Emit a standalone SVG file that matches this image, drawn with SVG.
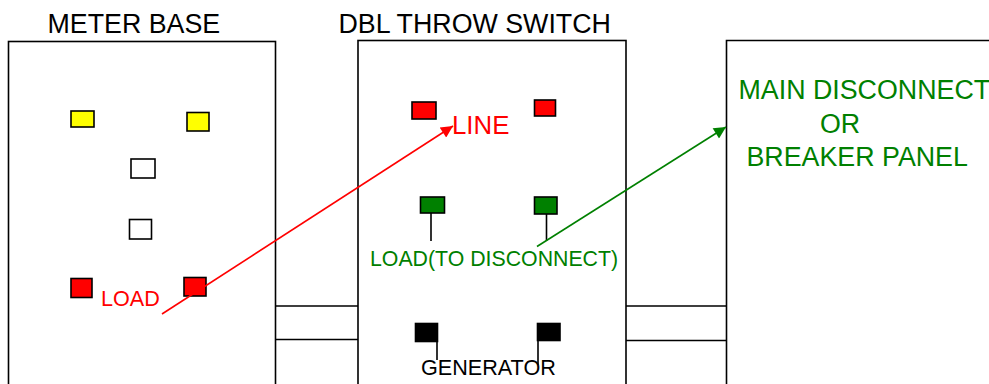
<svg xmlns="http://www.w3.org/2000/svg" width="989" height="384" viewBox="0 0 989 384">
<defs>
<style>
.box{fill:#fff;stroke:#000;stroke-width:1.6}
.t{font-family:"Liberation Sans",Arial,sans-serif}
.sq{stroke:#000;stroke-width:1.6}
.y{fill:#ffff00}.w{fill:#fff}.r{fill:#ff0000}.g{fill:#008000}.k{fill:#000}
.stem{stroke:#000;stroke-width:1.6;fill:none}
</style>
<marker id="ar" viewBox="0 0 10 10" refX="10" refY="5" markerWidth="17" markerHeight="12" markerUnits="userSpaceOnUse" orient="auto"><path d="M0,0L10,5L0,10Z" fill="#ff0000"/></marker>
<marker id="ag" viewBox="0 0 10 10" refX="10" refY="5" markerWidth="17" markerHeight="12" markerUnits="userSpaceOnUse" orient="auto"><path d="M0,0L10,5L0,10Z" fill="#008000"/></marker>
</defs>
<rect width="989" height="384" fill="#fff"/>
<g id="links">
<path class="stem" d="M275.5,306H358M275.5,339.5H358M626,306H726.5M626,340.5H726.5"/>
</g>
<g id="meter-base">
<text class="t" x="47.5" y="32.5" font-size="26.8">METER BASE</text>
<rect class="box" x="8.5" y="41.5" width="267" height="360"/>
<rect class="sq y" x="71" y="111" width="23" height="16"/>
<rect class="sq y" x="187" y="112.5" width="22" height="18.5"/>
<rect class="sq w" x="131" y="159" width="24" height="19"/>
<rect class="sq w" x="129.5" y="219.5" width="22" height="19.5"/>
<rect class="sq r" x="71" y="278.5" width="21" height="19"/>
<rect class="sq r" x="184" y="277.5" width="22" height="18.5"/>
<text class="t" x="101" y="306" font-size="21.6" fill="#ff0000">LOAD</text>
</g>
<g id="dbl-throw-switch">
<text class="t" x="338.5" y="33" font-size="26.8">DBL THROW SWITCH</text>
<rect class="box" x="358" y="40.5" width="268" height="360"/>
<rect class="sq r" x="412" y="102" width="24" height="17"/>
<rect class="sq r" x="534.5" y="100" width="21" height="16"/>
<text class="t" x="452" y="133.5" font-size="25.8" fill="#ff0000">LINE</text>
<rect class="sq g" x="420.5" y="197" width="24" height="16"/>
<rect class="sq g" x="534.5" y="197" width="22.5" height="17"/>
<path class="stem" d="M431,213V241M546.5,214V241"/>
<text class="t" x="370" y="266" font-size="21.3" fill="#008000">LOAD(TO DISCONNECT)</text>
<rect class="sq k" x="415.5" y="323.5" width="22" height="18"/>
<rect class="sq k" x="537.5" y="323.5" width="22.5" height="17"/>
<path class="stem" d="M437,341V360M538,340V365"/>
<text class="t" x="421" y="374.5" font-size="21.6">GENERATOR</text>
</g>
<g id="main-disconnect">
<path class="box" d="M726.5,401V40.5H989"/>
<text class="t" font-size="26.8" fill="#008000"><tspan x="738.5" y="99">MAIN DISCONNECT</tspan><tspan x="820" y="132.5">OR</tspan><tspan x="746.5" y="166">BREAKER PANEL</tspan></text>
</g>
<g id="connectors">
<line x1="162" y1="314" x2="453" y2="126" stroke="#ff0000" stroke-width="1.6" marker-end="url(#ar)"/>
<line x1="537" y1="246.5" x2="726" y2="127" stroke="#008000" stroke-width="1.6" marker-end="url(#ag)"/>
</g>
</svg>
